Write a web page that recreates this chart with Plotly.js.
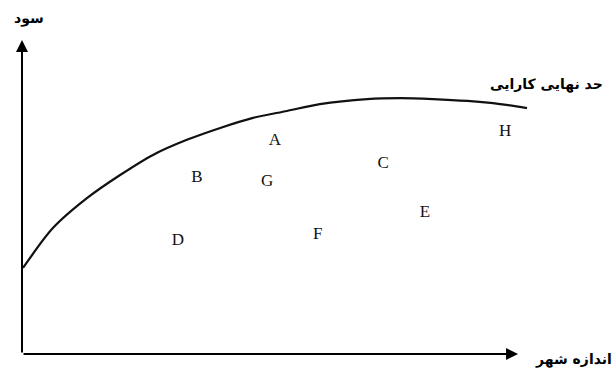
<!DOCTYPE html>
<html>
<head>
<meta charset="utf-8">
<script src="https://cdn.plot.ly/plotly-3.0.1.min.js"></script>
<style>
    body { margin: 0; background: #fff; }
    #graph { width: 616px; height: 368px; }
</style>
</head>
<body>
<div id="graph"></div>
<script>
// مرز کارایی (منحنی)
const frontierX = [0.2, 6.2, 13.1, 19.7, 26.3, 33.1, 39.8, 46.4, 53.2, 59.8, 69.3, 75.9, 82.5, 89.4, 96.0, 101.4];
const frontierY = [27.4, 40.1, 49.7, 57.0, 63.4, 68.2, 72.0, 75.2, 77.4, 79.6, 81.2, 81.5, 81.2, 80.6, 79.6, 78.3];

// شهرها
const cityNames = ['A', 'B', 'G', 'D', 'F', 'C', 'E', 'H'];
const cityX = [50.8, 35.1, 49.2, 31.3, 59.4, 72.5, 80.9, 97.0];
const cityY = [67.8, 56.1, 54.8, 36.0, 37.9, 60.5, 44.9, 70.7];

const traces = [
    {
        x: frontierX,
        y: frontierY,
        type: 'scatter',
        mode: 'lines',
        line: { color: '#111', width: 2.2, shape: 'spline', smoothing: 0.8 },
        hoverinfo: 'skip'
    },
    {
        x: cityX,
        y: cityY,
        text: cityNames,
        type: 'scatter',
        mode: 'text',
        textposition: 'middle center',
        textfont: { family: 'Liberation Serif', size: 17, color: '#111' },
        cliponaxis: false,
        hoverinfo: 'skip'
    }
];

const persianFont = { family: 'DejaVu Sans', size: 14, color: '#000', weight: 'bold' };

const layout = {
    width: 616,
    height: 368,
    margin: { l: 22, r: 86, t: 40, b: 14 },
    paper_bgcolor: '#fff',
    plot_bgcolor: '#fff',
    showlegend: false,
    xaxis: { range: [0, 102], showgrid: false, zeroline: false, showticklabels: false, showline: false, fixedrange: true },
    yaxis: { range: [0, 100], showgrid: false, zeroline: false, showticklabels: false, showline: false, fixedrange: true },
    annotations: [
        // محورها با فلش
        { x: 0, y: 100, ax: 0, ay: 0, xref: 'x', yref: 'y', axref: 'x', ayref: 'y',
          text: '', showarrow: true, arrowhead: 2, arrowsize: 1.2, arrowwidth: 2, arrowcolor: '#000' },
        { x: 99.6, y: 0, ax: 0, ay: 0, xref: 'x', yref: 'y', axref: 'x', ayref: 'y',
          text: '', showarrow: true, arrowhead: 2, arrowsize: 1.2, arrowwidth: 2, arrowcolor: '#000' },
        // برچسب‌ها
        { x: -0.0197, y: 1.07, xref: 'paper', yref: 'paper', xanchor: 'left', yanchor: 'middle',
          text: 'سود', showarrow: false, font: persianFont },
        { x: 1.033, y: 0.857, xref: 'paper', yref: 'paper', xanchor: 'center', yanchor: 'middle',
          text: 'حد نهایی کارایی', showarrow: false, font: persianFont },
        { x: 1.165, y: -0.019, xref: 'paper', yref: 'paper', xanchor: 'right', yanchor: 'middle',
          text: 'اندازه شهر', showarrow: false, font: persianFont }
    ]
};

Plotly.newPlot('graph', traces, layout, { displayModeBar: false, staticPlot: true });
</script>
</body>
</html>
